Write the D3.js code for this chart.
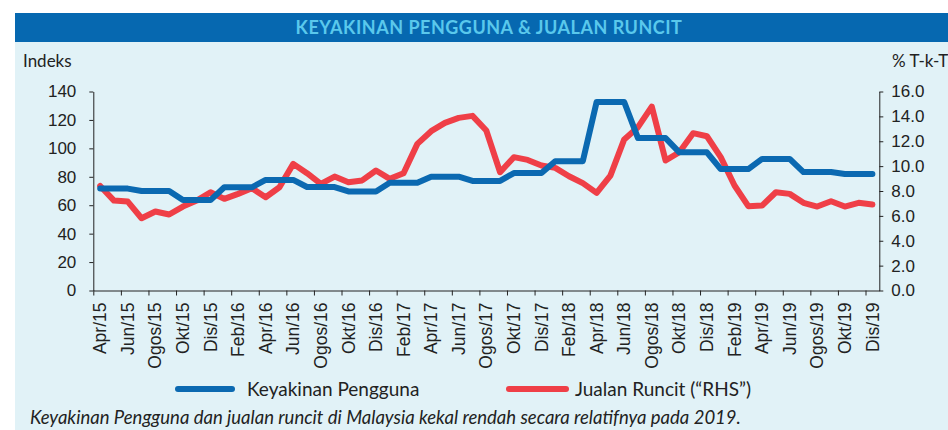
<!DOCTYPE html>
<html>
<head>
<meta charset="utf-8">
<script src="https://cdn.jsdelivr.net/npm/d3@7"></script>
<style>
  body { margin: 0; background: #fff; }
  svg { display: block; font-family: Lato, "Open Sans", sans-serif; }
  .axis path, .axis line { stroke: #222; }
  .axis text { fill: #222; font-size: 17px; }
  .xlab text { font-size: 17.5px; }
</style>
</head>
<body>
<div id="chart"></div>
<script>
// bulan (Apr/15 .. Dis/19)
var months = ["Apr/15","Mei/15","Jun/15","Jul/15","Ogos/15","Sep/15","Okt/15","Nov/15","Dis/15",
  "Jan/16","Feb/16","Mac/16","Apr/16","Mei/16","Jun/16","Jul/16","Ogos/16","Sep/16","Okt/16","Nov/16","Dis/16",
  "Jan/17","Feb/17","Mac/17","Apr/17","Mei/17","Jun/17","Jul/17","Ogos/17","Sep/17","Okt/17","Nov/17","Dis/17",
  "Jan/18","Feb/18","Mac/18","Apr/18","Mei/18","Jun/18","Jul/18","Ogos/18","Sep/18","Okt/18","Nov/18","Dis/18",
  "Jan/19","Feb/19","Mac/19","Apr/19","Mei/19","Jun/19","Jul/19","Ogos/19","Sep/19","Okt/19","Nov/19","Dis/19"];

// Keyakinan Pengguna (indeks, paksi kiri)
var keyakinan = [71.7,71.7,71.7, 70.0,70.0,70.0, 63.6,63.6,63.6, 72.6,72.6,72.6, 77.8,77.8,77.8,
  72.8,72.8,72.8, 69.7,69.7,69.7, 75.8,75.8,75.8, 80.1,80.1,80.1, 77.1,77.1,77.1,
  82.6,82.6,82.6, 91.0,91.0,91.0, 132.6,132.6,132.6, 107.2,107.2,107.2, 97.2,97.2,97.2,
  85.4,85.4,85.4, 92.6,92.6,92.6, 83.3,83.3,83.3, 82.0,82.0,82.0];

// Jualan Runcit (% T-k-T, paksi kanan)
var jualan = [8.4,7.23,7.15,5.81,6.35,6.11,6.75,7.23,7.9,7.37,7.77,8.22,7.5,8.3,10.18,9.43,8.58,9.16,8.71,8.85,
  9.65,8.98,9.43,11.79,12.81,13.48,13.88,14.04,12.86,9.51,10.72,10.5,10.05,9.86,9.19,8.63,7.85,9.24,12.15,
  13.13,14.79,10.45,11.12,12.65,12.4,10.72,8.44,6.78,6.83,7.9,7.77,7.05,6.75,7.18,6.75,7.05,6.91];

var leftTicks = [0, 20, 40, 60, 80, 100, 120, 140];
var rightTicks = [0, 2, 4, 6, 8, 10, 12, 14, 16];
var title = "KEYAKINAN PENGGUNA & JUALAN RUNCIT";
var caption = "Keyakinan Pengguna dan jualan runcit di Malaysia kekal rendah secara relatifnya pada 2019.";

var W = 948, H = 430;
var plotL = 93.3, plotR = 879.3, plotT = 91.5, plotB = 290.5;
var blue = "#0b69b1", red = "#ef3f47";

var svg = d3.select("#chart").append("svg")
  .attr("width", W).attr("height", H);

// panel + tajuk
svg.append("rect").attr("x", 15).attr("y", 13).attr("width", W - 15).attr("height", H - 13)
  .attr("fill", "#e1f2f7");
svg.append("rect").attr("x", 15).attr("y", 13).attr("width", W - 15).attr("height", 29)
  .attr("fill", "#0668b0");
svg.append("text").attr("x", 489).attr("y", 34).attr("text-anchor", "middle")
  .attr("fill", "#5ac8ec").style("font-size", "18px").style("font-weight", "bold")
  .style("letter-spacing", "0.5px")
  .text(title);

// skala
var x = d3.scaleBand().domain(months).range([plotL, plotR]);
var xi = d3.scaleLinear().domain([0, months.length]).range([plotL, plotR]);
var yL = d3.scaleLinear().domain([0, 140]).range([plotB, plotT]);
var yR = d3.scaleLinear().domain([0, 16]).range([plotB, plotT]);

// paksi kiri
svg.append("g").attr("class", "axis")
  .attr("transform", "translate(" + plotL + ",0)")
  .call(d3.axisLeft(yL).tickValues(leftTicks).tickSizeInner(4).tickSizeOuter(0).tickPadding(13));

// paksi kanan
svg.append("g").attr("class", "axis")
  .attr("transform", "translate(" + plotR + ",0)")
  .call(d3.axisRight(yR).tickValues(rightTicks).tickFormat(d3.format(".1f"))
    .tickSizeInner(4).tickSizeOuter(0).tickPadding(8));

// paksi x: tanda setiap 2 bulan
svg.append("g").attr("class", "axis")
  .attr("transform", "translate(0," + plotB + ")")
  .call(d3.axisBottom(xi).tickValues(d3.range(0, months.length, 2)).tickFormat("")
    .tickSizeInner(5).tickSizeOuter(0));

var xLab = svg.append("g").attr("class", "axis xlab")
  .attr("transform", "translate(0," + plotB + ")")
  .call(d3.axisBottom(x).tickValues(months.filter(function(d, i) { return i % 2 == 0; }))
    .tickSize(0));
xLab.select(".domain").remove();
xLab.selectAll("text")
  .attr("transform", "rotate(-90)")
  .attr("text-anchor", "end")
  .attr("x", -12).attr("y", 0).attr("dy", "0.35em");

// label paksi
svg.append("text").attr("x", 23).attr("y", 67).style("font-size", "17px").attr("fill", "#222").text("Indeks");
svg.append("text").attr("x", 892).attr("y", 67).style("font-size", "17px").attr("fill", "#222").text("% T-k-T");

// garisan
var cx = function(d, i) { return x(months[i]) + x.bandwidth() / 2; };
var lineR = d3.line().x(cx).y(function(d) { return yR(d); });
var lineL = d3.line().x(cx).y(function(d) { return yL(d); });

svg.append("path").datum(jualan).attr("d", lineR)
  .attr("fill", "none").attr("stroke", red).attr("stroke-width", 6)
  .attr("stroke-linejoin", "round").attr("stroke-linecap", "round");
svg.append("path").datum(keyakinan).attr("d", lineL)
  .attr("fill", "none").attr("stroke", blue).attr("stroke-width", 6)
  .attr("stroke-linejoin", "round").attr("stroke-linecap", "round");

// legend
var legend = [
  { label: "Keyakinan Pengguna", color: blue, x1: 178, x2: 232, tx: 247 },
  { label: "Jualan Runcit (\u201CRHS\u201D)", color: red, x1: 509, x2: 566, tx: 575 }
];
legend.forEach(function(l) {
  svg.append("line").attr("x1", l.x1).attr("x2", l.x2).attr("y1", 389).attr("y2", 389)
    .attr("stroke", l.color).attr("stroke-width", 6).attr("stroke-linecap", "round");
  svg.append("text").attr("x", l.tx).attr("y", 395.5).style("font-size", "19px")
    .attr("fill", "#222").text(l.label);
});

svg.append("text").attr("x", 30).attr("y", 424).style("font-size", "18.5px")
  .style("font-style", "italic").attr("fill", "#222").text(caption);
</script>
</body>
</html>
